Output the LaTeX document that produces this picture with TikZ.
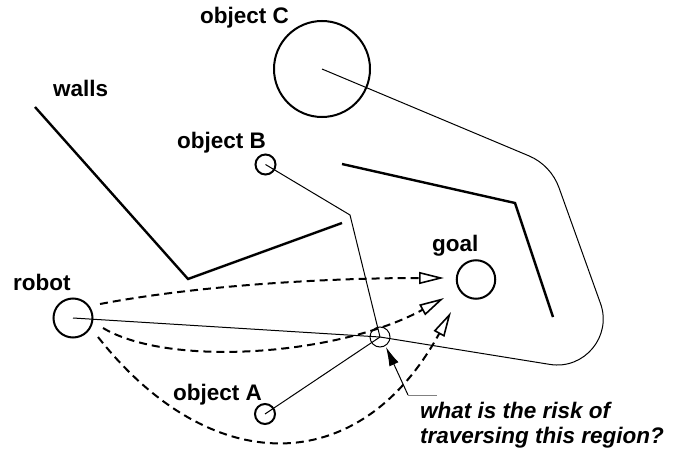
\documentclass[tikz,border=0pt]{standalone}
\usepackage{fontspec}
\setmainfont{Liberation Sans}
\usetikzlibrary{arrows.meta}
\begin{document}
\begin{tikzpicture}[x=1pt,y=-1pt,
  lbl/.style={anchor=base west,inner sep=0pt,font=\fontsize{22.5}{27}\selectfont\bfseries},
  qlbl/.style={anchor=base west,inner sep=0pt,font=\fontsize{22.5}{27}\selectfont\bfseries\itshape},
  obj/.style={circle,draw,line width=2pt,inner sep=0pt},
  wall/.style={line width=2.4pt,line join=miter},
  thin/.style={line width=1pt,line join=round},
  move/.style={line width=2pt,dash pattern=on 8pt off 5pt,-{Triangle[open,length=25pt,width=12pt,line width=1.6pt]}},
  pointer/.style={line width=1pt,-{Latex[length=19pt,width=10pt]}}]
\useasboundingbox (0,0) rectangle (683,452);
% objects
\node[obj,minimum size=96pt] (C) at (322,69) {};
\node[obj,minimum size=20pt] (B) at (265.5,164.5) {};
\node[obj,minimum size=39pt] (robot) at (73,318) {};
\node[obj,minimum size=38.5pt] (goal) at (476,279.5) {};
\node[obj,minimum size=20pt] (A) at (265,414) {};
\node[circle,draw,line width=1pt,inner sep=0pt,minimum size=20pt] (W) at (380,337) {};
% labels
\node[lbl] (lC) at (200,24) {object C};
\node[lbl] (lwalls) at (53,96) {walls};
\node[lbl] (lB) at (177,148) {object B};
\node[lbl] (lrobot) at (13,290) {robot};
\node[lbl] (lgoal) at (432,251) {goal};
\node[lbl] (lA) at (173,400) {object A};
\node[qlbl] (q1) at (420,418) {what is the risk of};
\node[qlbl] (q2) at (420,443) {traversing this region?};
% walls
\draw[wall] (35,107) -- (188,279) -- (342,223);
\draw[wall] (342,164) -- (515,203) -- (553,317);
% thin paths
\coordinate (k1) at (350,215);
\draw[thin] (C.center) -- (528.8,155.8)
  .. controls (542.9,161.7) and (553.8,173.3) .. (559.0,187.7)
  -- (600.5,303.5)
  .. controls (612.3,336.4) and (584.3,370.0) .. (549.8,364.4)
  -- (W.center) -- (robot.center);
\draw[thin] (B.center) -- (k1) -- (W.center) -- (A.center);
% dashed motions
\coordinate (t1) at (444,278);
\coordinate (t2) at (444,298);
\coordinate (t3) at (451,312);
\draw[move] (100,304) .. controls (200,285) and (330,278) .. (t1);
\draw[move] (103,328) .. controls (170,368) and (340,355) .. (t2);
\draw[move] (98,337) .. controls (210,479) and (359,480) .. (t3);
% pointer
\coordinate (p0) at (408,395);
\coordinate (p1) at (437,395);
\draw[gray,line width=1pt] (p0) -- (p1);
\draw[pointer] (p0) -- (386,347);
\end{tikzpicture}
\end{document}
